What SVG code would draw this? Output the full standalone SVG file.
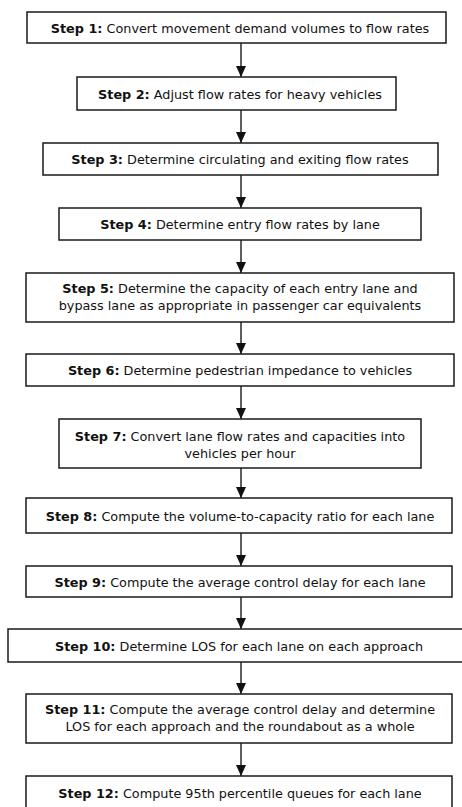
<svg xmlns="http://www.w3.org/2000/svg" width="462" height="807" viewBox="0 0 462 807">
<defs>
<marker id="ah" viewBox="0 0 11 10" refX="11" refY="5" markerWidth="11" markerHeight="10" markerUnits="userSpaceOnUse" orient="auto">
<path d="M0,0 L11,5 L0,10 Z" fill="#111"/>
</marker>
</defs>
<style>
rect{fill:#fff;stroke:#1a1a1a;stroke-width:1.5}
text{font-family:"DejaVu Sans","Liberation Sans",sans-serif;font-size:12.8px;fill:#111;text-anchor:middle}
.b{font-weight:bold}
.c{stroke:#1a1a1a;stroke-width:1.4;fill:none;marker-end:url(#ah)}
</style>
<rect x="0" y="0" width="462" height="807" style="fill:#fff;stroke:none"/>
<g id="connectors">
<line class="c" x1="241" y1="43" x2="241" y2="77"/>
<line class="c" x1="241" y1="110" x2="241" y2="143"/>
<line class="c" x1="241" y1="175" x2="241" y2="208"/>
<line class="c" x1="241" y1="240" x2="241" y2="273"/>
<line class="c" x1="241" y1="322" x2="241" y2="354"/>
<line class="c" x1="241" y1="386" x2="241" y2="419"/>
<line class="c" x1="241" y1="468" x2="241" y2="498"/>
<line class="c" x1="241" y1="533" x2="241" y2="566"/>
<line class="c" x1="241" y1="597" x2="241" y2="629"/>
<line class="c" x1="241" y1="662" x2="241" y2="694"/>
<line class="c" x1="241" y1="743" x2="241" y2="776"/>
</g>
<g id="step1"><rect x="27" y="12" width="419" height="31"/><text x="240" y="32.5"><tspan class="b">Step 1:</tspan> Convert movement demand volumes to flow rates</text></g>
<g id="step2"><rect x="77" y="77" width="319" height="33"/><text x="240" y="98.5"><tspan class="b">Step 2:</tspan> Adjust flow rates for heavy vehicles</text></g>
<g id="step3"><rect x="43" y="143" width="395" height="32"/><text x="240" y="164"><tspan class="b">Step 3:</tspan> Determine circulating and exiting flow rates</text></g>
<g id="step4"><rect x="59" y="208" width="362" height="32"/><text x="240" y="229"><tspan class="b">Step 4:</tspan> Determine entry flow rates by lane</text></g>
<g id="step5"><rect x="26" y="273" width="428" height="49"/><text x="240" y="293"><tspan class="b">Step 5:</tspan> Determine the capacity of each entry lane and</text><text x="240" y="310">bypass lane as appropriate in passenger car equivalents</text></g>
<g id="step6"><rect x="26" y="354" width="428" height="32"/><text x="240" y="375"><tspan class="b">Step 6:</tspan> Determine pedestrian impedance to vehicles</text></g>
<g id="step7"><rect x="59" y="419" width="362" height="49"/><text x="240" y="441"><tspan class="b">Step 7:</tspan> Convert lane flow rates and capacities into</text><text x="240" y="458">vehicles per hour</text></g>
<g id="step8"><rect x="26" y="498" width="426" height="35"/><text x="240" y="520.5"><tspan class="b">Step 8:</tspan> Compute the volume-to-capacity ratio for each lane</text></g>
<g id="step9"><rect x="26" y="566" width="426" height="31"/><text x="240" y="586.5"><tspan class="b">Step 9:</tspan> Compute the average control delay for each lane</text></g>
<g id="step10"><rect x="8" y="629" width="470" height="33"/><text x="239" y="650.5"><tspan class="b">Step 10:</tspan> Determine LOS for each lane on each approach</text></g>
<g id="step11"><rect x="26" y="694" width="426" height="49"/><text x="240" y="714"><tspan class="b">Step 11:</tspan> Compute the average control delay and determine</text><text x="240" y="731">LOS for each approach and the roundabout as a whole</text></g>
<g id="step12"><rect x="26" y="776" width="426" height="40"/><text x="240" y="797.5"><tspan class="b">Step 12:</tspan> Compute 95th percentile queues for each lane</text></g>
</svg>
